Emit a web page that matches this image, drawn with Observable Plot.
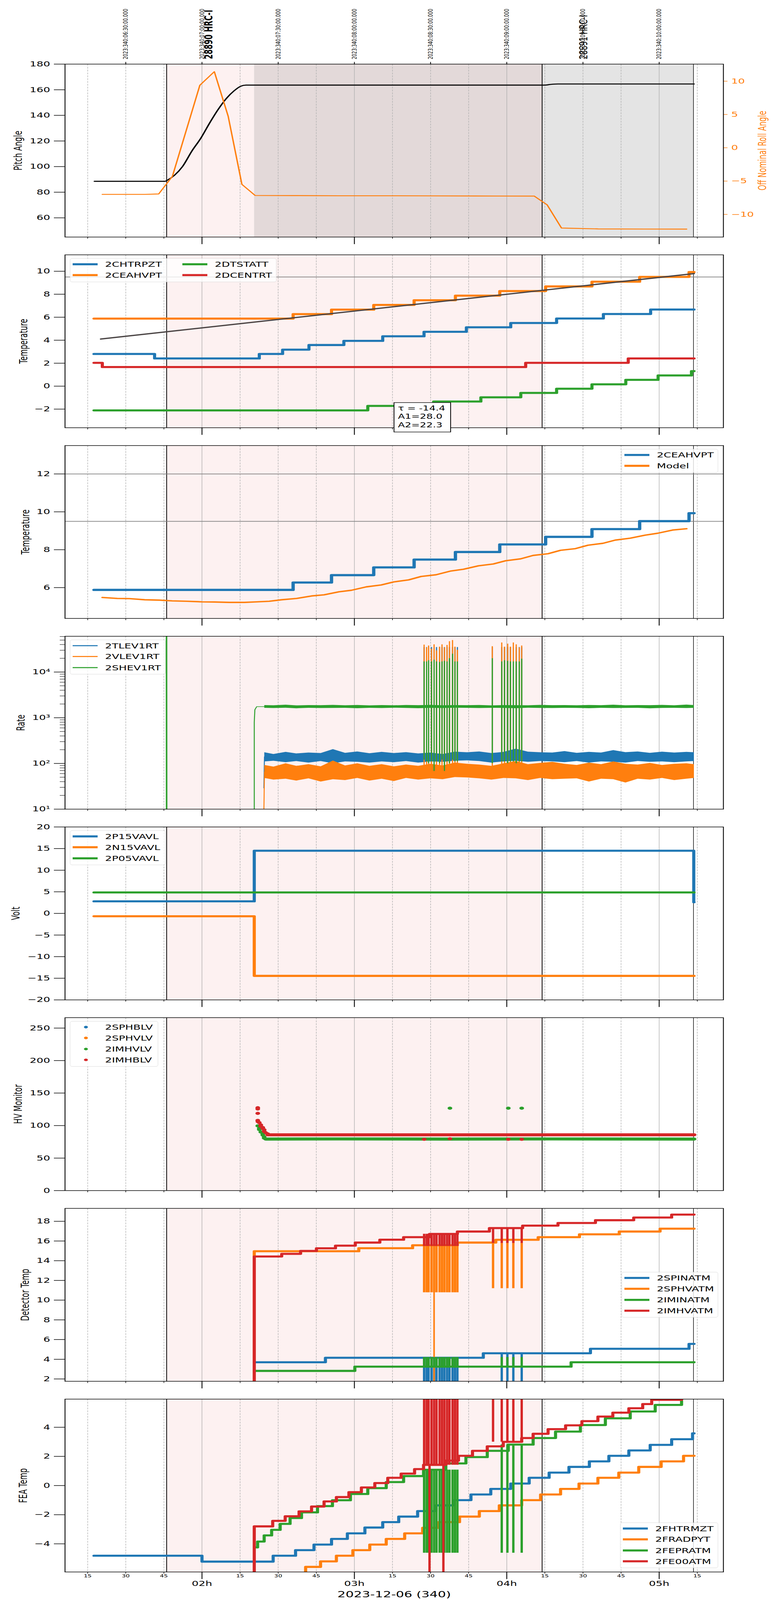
<!DOCTYPE html>
<html>
<head>
<meta charset="utf-8">
<script src="https://cdn.jsdelivr.net/npm/d3@7"></script>
<script src="https://cdn.jsdelivr.net/npm/@observablehq/plot@0.6"></script>
<style>
  html, body { margin: 0; padding: 0; background: #fff; overflow: hidden; }
  #frame { position: relative; width: 2000px; overflow: hidden; background: #fff; }
  #root { position: absolute; left: 0; top: 0; width: 2000px; height: 6200px; font-family: "DejaVu Sans"; background: #fff; transform-origin: 0 0; }
  .leg { position: absolute; border: 1.5px solid #d5d5d5; border-radius: 6px; background: rgba(255,255,255,0.8); box-sizing: border-box; }
  .leg span { position: absolute; white-space: nowrap; font-size: 27.5px; line-height: 34px; color: #000; }
  .ann { position: absolute; border: 2.2px solid #000; background: #fff; box-sizing: border-box; font-size: 26px; line-height: 32.4px; padding: 5px 0 0 9px; white-space: nowrap; }
</style>
</head>
<body>
<div id="frame"><div id="root"></div></div>
<script>
// ---------------- time axis (hours, local) ----------------
const hourTicks = [2, 3, 4, 5];
const hourLabels = ["02h", "03h", "04h", "05h"];
const minorTicks = [1.25, 1.5, 1.75, 2.25, 2.5, 2.75, 3.25, 3.5, 3.75, 4.25, 4.5, 4.75, 5.25];
const minorLabels = ["15","30","45","15","30","45","15","30","45","15","30","45","15"];
const topTicks = [1.5, 2, 2.5, 3, 3.5, 4, 4.5, 5];
const topLabels = ["2023:340:06:30:00.000","2023:340:07:00:00.000","2023:340:07:30:00.000","2023:340:08:00:00.000",
                   "2023:340:08:30:00.000","2023:340:09:00:00.000","2023:340:09:30:00.000","2023:340:10:00:00.000"];
const obsTimes = [2.045, 4.507];
const obsNames = ["28890 HRC-I", "28891 HRC-I"];
const xLabel = "2023-12-06 (340)";
const eventTimes = [1.768, 4.232];
const dataEndTime = [5.225];
const pinkStart = 1.768, slewEnd = 2.343, pinkEnd = 4.232, grayEnd = 5.225;

// ---------------- panel 1: pitch & roll ----------------
const pitchDomain = [45, 180];
const pitchTicks = [60, 80, 100, 120, 140, 160, 180];
const pitchT = [1.294, 1.757, 1.774, 1.820, 1.872, 1.934, 1.992, 2.049, 2.106, 2.163, 2.209, 2.255, 2.289, 4.248, 4.29, 4.336, 5.229];
const pitchV = [88.5, 88.5, 89.5, 93.3, 100, 112.2, 122.1, 133.8, 144.6, 153.6, 159.0, 162.8, 163.6, 163.6, 164.2, 164.5, 164.5];
const rollDomain = [-13.4, 12.56];
const rollTicks = [-10, -5, 0, 5, 10];
const rollT = [1.346, 1.624, 1.716, 1.806, 1.986, 2.081, 2.172, 2.262, 2.349, 2.6, 2.9, 3.2, 3.5, 3.8, 4.18, 4.265, 4.359, 4.6, 4.9, 5.18];
const rollV = [-7.0, -7.0, -6.93, -4.28, 9.39, 11.43, 4.72, -5.5, -7.16, -7.18, -7.2, -7.2, -7.22, -7.24, -7.25, -8.57, -12.05, -12.18, -12.2, -12.21];

// ---------------- panel 2: temperatures ----------------
const chtrpztT = [1.291, 1.689, 2.376, 2.529, 2.702, 2.931, 3.186, 3.457, 3.735, 4.026, 4.327, 4.634, 4.944, 5.229];
const chtrpztV = [2.80, 2.41, 2.80, 3.18, 3.58, 3.94, 4.34, 4.73, 5.12, 5.50, 5.89, 6.28, 6.67, 6.67];
const ceahvptT = [1.291, 2.598, 2.85, 3.127, 3.392, 3.663, 3.954, 4.255, 4.559, 4.872, 5.196, 5.229];
const ceahvptV = [5.88, 6.27, 6.66, 7.07, 7.48, 7.88, 8.28, 8.68, 9.09, 9.51, 9.93, 9.93];
const dtstattT = [1.291, 3.088, 3.52, 3.83, 4.092, 4.327, 4.559, 4.781, 4.993, 5.212, 5.229];
const dtstattV = [-2.11, -1.72, -1.34, -0.97, -0.59, -0.22, 0.16, 0.55, 0.93, 1.31, 1.31];
const dcentrtT = [1.291, 1.346, 4.124, 4.797, 5.229];
const dcentrtV = [2.03, 1.66, 2.03, 2.41, 2.41];
const trendT = [1.336, 5.229];
const trendV = [4.10, 9.80];
const p2Limit = [9.5];
const fitLines = ["τ = -14.4", "A1=28.0", "A2=22.3"];

// ---------------- panel 3: model ----------------
const modelT = [1.346,1.444,1.526,1.624,1.722,1.804,1.902,2.0,2.082,2.180,2.278,2.359,2.441,2.523,2.621,2.719,2.801,2.899,2.980,3.078,3.176,3.258,3.356,3.438,3.536,3.634,3.716,3.814,3.912,3.993,4.091,4.173,4.271,4.353,4.451,4.533,4.631,4.712,4.810,4.908,4.990,5.088,5.180];
const modelV = [5.48,5.43,5.42,5.36,5.34,5.30,5.28,5.25,5.24,5.22,5.22,5.25,5.28,5.36,5.43,5.56,5.62,5.78,5.86,6.04,6.14,6.30,6.41,6.59,6.68,6.88,6.97,7.15,7.25,7.42,7.52,7.70,7.79,7.97,8.06,8.24,8.34,8.51,8.61,8.77,8.87,9.04,9.11];
const p3Limits = [12, 9.5];

// ---------------- panel 4: rates (log) ----------------
const rateT = [2.41,2.47,2.55,2.62,2.70,2.78,2.86,2.94,3.02,3.10,3.18,3.26,3.34,3.42,3.50,3.58,3.66,3.74,3.82,3.90,3.98,4.06,4.14,4.22,4.30,4.38,4.46,4.54,4.62,4.70,4.78,4.86,4.94,5.02,5.10,5.18,5.229];
const tlevHi = [175,160,178,165,172,168,205,170,182,166,178,168,176,165,172,160,180,175,182,168,178,210,180,175,172,185,170,178,172,195,176,182,170,180,172,178,175];
const tlevLo = [110,114,106,112,104,112,100,110,108,104,110,106,112,104,110,108,114,116,112,104,110,114,108,112,110,106,112,104,110,108,104,112,108,110,106,110,112];
const vlevHi = [92,85,100,88,96,86,115,90,100,88,96,86,94,88,98,90,104,98,94,88,100,112,96,102,108,98,92,104,96,110,98,94,102,92,98,100,96];
const vlevLo = [48,44,46,42,47,40,45,43,48,42,46,41,48,44,47,45,50,49,47,44,48,47,43,48,45,46,47,40,46,45,38,46,44,48,43,46,48];
const shevHi = [1880,1860,1920,1850,1880,1870,1900,1860,1890,1850,1880,1860,1890,1870,1900,1860,1880,1870,1890,1850,1880,1870,1860,1900,1870,1880,1860,1890,1870,1920,1860,1880,1870,1900,1860,1930,1880];
const shevLo = [1640,1620,1650,1600,1640,1620,1630,1640,1610,1640,1620,1650,1630,1610,1640,1620,1650,1640,1620,1640,1630,1610,1650,1630,1620,1640,1630,1610,1640,1620,1630,1640,1600,1630,1640,1620,1640];
const tlevLeadT = [2.406, 2.41], tlevLeadV = [29, 140];
const vlevLeadT = [2.405, 2.41], vlevLeadV = [5, 65];
const shevLeadT = [2.343, 2.343, 2.347, 2.359, 2.41], shevLeadV = [5, 800, 1500, 1750, 1750];
const shevFlashT = [1.767, 1.768], shevFlashV = [1e6, 1];
const rateTicks = [10, 100, 1000, 10000];
const rateMinor = [20,30,40,50,60,70,80,90,200,300,400,500,600,700,800,900,2000,3000,4000,5000,6000,7000,8000,9000,20000,30000,40000,50000,60000];
// glitch times
const glitch1 = [3.4575, 3.474, 3.487, 3.506, 3.523, 3.539, 3.559, 3.575, 3.591, 3.608, 3.624, 3.644, 3.660, 3.676];
const glitch2 = [3.905, 3.967, 3.985, 4.006, 4.024, 4.043, 4.062, 4.082, 4.098];
const glitch2T = [3.910, 3.967, 4.004, 4.043, 4.098];
const vlevTop1 = [39500, 34500, 37900, 32400, 40200, 29600, 35600, 40200, 34500, 39000, 46900, 49900, 35600, 30500];
const vlevTop2 = [36600, 44000, 35600, 41500, 35600, 44000, 40200, 34500, 37900];
const shevTop1 = [17000, 17000, 18000, 17000, 18500, 17000, 16500, 17000, 17500, 17000, 20000, 25000, 17000, 17000];
const shevTop2 = [20000, 17000, 18000, 17500, 17000, 17000, 17000, 17000, 19500];
const shevBot1 = [120, 110, 100, 110, 68, 110, 100, 120, 68, 110, 100, 120, 110, 110];
const shevBot2 = [100, 110, 110, 100, 110, 110, 100, 110, 110];
const tlevTop = 35000, tlevBase = 140, vlevBase = 60;

// ---------------- panel 5: voltages ----------------
const p15T = [1.291, 2.343, 5.227, 5.229], p15V = [2.79, 14.51, 2.59, 2.59];
const n15T = [1.291, 2.343, 5.229], n15V = [-0.65, -14.45, -14.45];
const p05T = [1.291, 5.229], p05V = [4.85, 4.85];

// ---------------- panel 6: HV monitor ----------------
const imhblvDotT = [2.366, 2.366, 2.366, 2.366, 2.367, 2.376, 2.386, 2.386, 2.399, 2.399, 2.408, 2.408, 2.418, 2.431, 3.458, 3.627, 4.010, 4.098];
const imhblvDotV = [127.5, 125.5, 118.8, 108, 106, 104.5, 101, 99, 97, 95.5, 93.5, 91, 89, 87.3, 78.9, 79.8, 78.9, 78.9];
const imhblvBandT = [2.431, 5.229], imhblvBandV = [85.8, 85.8];
const imhvlvDotT = [2.366, 2.376, 2.376, 2.386, 2.399, 2.399, 2.408, 2.408, 3.627, 4.010, 4.098];
const imhvlvDotV = [99.5, 95.8, 93.9, 90.1, 87.3, 85.5, 82.6, 80.8, 126.7, 126.7, 126.7];
const imhvlvBandT = [2.418, 2.9, 3.6, 4.3, 5.229], imhvlvBandV = [79.3, 79.5, 79.3, 79.5, 79.3];

// ---------------- panel 7: detector temps ----------------
const spinatmT = [2.343, 2.810, 3.846, 4.549, 5.196, 5.229], spinatmV = [3.70, 4.15, 4.61, 5.06, 5.56, 5.56];
const sphvatmT = [2.343, 2.343, 3.029, 3.382, 3.676, 3.928, 4.206, 4.477, 4.738, 5.006, 5.229];
const sphvatmV = [1.0, 14.96, 15.27, 15.57, 15.84, 16.12, 16.39, 16.68, 16.96, 17.25, 17.25];
const iminatmT = [2.343, 3.003, 4.422, 5.229], iminatmV = [2.82, 3.25, 3.70, 3.70];
const imhvatmT = [2.343, 2.343, 2.523, 2.647, 2.751, 2.876, 3.006, 3.167, 3.323, 3.493, 3.676, 3.886, 4.104, 4.336, 4.582, 4.833, 5.082, 5.229];
const imhvatmV = [1.0, 14.43, 14.70, 14.99, 15.26, 15.53, 15.84, 16.13, 16.39, 16.72, 16.96, 17.31, 17.56, 17.83, 18.11, 18.38, 18.68, 18.68];
const p7Dip = {spin: [4.15, 4.61, 1.0], sphv: [15.57, 10.78, 16.12, 11.2], imin: [3.25, 4.21], imhv: [16.72, 15.48, 17.31, 15.79]};
const sphvDeepT = [3.523];

// ---------------- panel 8: FEA temps ----------------
const fhtrmztT = [1.291, 2.0, 2.467, 2.614, 2.735, 2.850, 2.954, 3.069, 3.186, 3.291, 3.415, 3.536, 3.650, 3.765, 3.895, 4.026, 4.147, 4.278, 4.408, 4.542, 4.670, 4.801, 4.941, 5.082, 5.219, 5.229];
const fhtrmztV = [-4.815, -5.218, -4.815, -4.43, -4.05, -3.66, -3.28, -2.88, -2.51, -2.13, -1.75, -1.36, -1.00, -0.61, -0.23, 0.14, 0.53, 0.89, 1.28, 1.66, 2.04, 2.41, 2.79, 3.18, 3.58, 3.58];
const fradpytT = [2.680, 2.680, 2.778, 2.882, 2.990, 3.101, 3.209, 3.330, 3.448, 3.552, 3.690, 3.820, 3.951, 4.098, 4.222, 4.353, 4.474, 4.598, 4.735, 4.866, 5.013, 5.160, 5.229];
const fradpytV = [-7, -5.58, -5.20, -4.815, -4.43, -4.05, -3.66, -3.28, -2.90, -2.51, -2.13, -1.75, -1.36, -1.00, -0.61, -0.23, 0.14, 0.53, 0.89, 1.28, 1.66, 2.04, 2.04];
const fepratmT = [2.359, 2.365, 2.408, 2.457, 2.513, 2.578, 2.653, 2.758, 2.856, 2.974, 3.088, 3.209, 3.323, 3.454, 3.600, 3.732, 3.872, 4.010, 4.173, 4.320, 4.483, 4.647, 4.810, 4.974, 5.147, 5.229];
const fepratmV = [-4.24, -3.84, -3.42, -3.04, -2.63, -2.23, -1.84, -1.41, -1.01, -0.58, -0.18, 0.24, 0.65, 1.08, 1.52, 1.95, 2.38, 2.81, 3.26, 3.70, 4.15, 4.61, 5.08, 5.53, 6.0, 6.0];
const fe00atmT = [2.343, 2.343, 2.464, 2.546, 2.637, 2.719, 2.801, 2.882, 2.964, 3.046, 3.134, 3.219, 3.307, 3.395, 3.454, 3.600, 3.683, 3.775, 3.872, 3.977, 4.098, 4.173, 4.271, 4.386, 4.493, 4.598, 4.696, 4.801, 4.892, 4.951, 5.147, 5.229];
const fe00atmV = [-7, -2.80, -2.42, -2.11, -1.77, -1.44, -1.09, -0.79, -0.45, -0.13, 0.17, 0.53, 0.82, 1.13, 1.42, 1.71, 2.04, 2.38, 2.69, 3.00, 3.26, 3.55, 3.87, 4.13, 4.42, 4.73, 5.00, 5.30, 5.59, 5.88, 6.2, 6.2];
const p8Dip = {fepr: [1.08, 2.81, -4.62], fe00: [1.42, 3.00, 7.0, -7.0]};
const fe00DownT = [3.493, 3.584];

// ---------------- drawing ----------------
const C = {blue: "#1f77b4", orange: "#ff7f0e", green: "#2ca02c", red: "#d62728"};
const root = document.getElementById("root");
const frame = document.getElementById("frame");
// The sandbox window may be shorter than the 6200px figure: fit the whole figure into the visible height.
const PAGE_H = 6200;
const fitScale = Math.min(1, (window.innerHeight || PAGE_H) / PAGE_H);
frame.style.height = Math.round(PAGE_H * fitScale) + "px";
root.style.transform = "scale(1," + fitScale + ")";

const X_DOMAIN = [1.1012, 5.4215];
const ML = 166, MR = 148, FH = 670, GAP = 739, TOP0 = 248;
const STYLE = {fontFamily: "DejaVu Sans", fontSize: "27.5px", background: "transparent", overflow: "visible", color: "black"};

const pts = (t, v) => t.map((x, i) => ({x, y: v[i]}));
const rl = (t, a, b) => t.map((x, i) => ({x, y1: Array.isArray(a) ? a[i] : a, y2: Array.isArray(b) ? b[i] : b}));
const step = (t, v, color, w) => Plot.line(pts(t, v), {x: "x", y: "y", stroke: color, strokeWidth: w, curve: "step-after", clip: true});
const glitch = (t, a, b, color, w) => Plot.ruleX(rl(t, a, b), {x: "x", y1: "y1", y2: "y2", stroke: color, strokeWidth: w, clip: true});

function back(spans) {
  return [
    ...spans.map(s => Plot.rect([s], {x1: "a", x2: "b", fill: s.c})),
    Plot.ruleX(minorTicks, {stroke: "#b0b0b0", strokeWidth: 1.4, strokeDasharray: "7,4"}),
    Plot.ruleX(hourTicks, {stroke: "#b0b0b0", strokeWidth: 1.4}),
    Plot.ruleX(eventTimes, {stroke: "black", strokeWidth: 2}),
    Plot.ruleX(dataEndTime, {stroke: "black", strokeWidth: 1.4})
  ];
}
const pinkSpans = [{a: pinkStart, b: pinkEnd, c: "#fdf1f1"}];

function axes(yTicks, yFmt, last, yMinor) {
  const m = [];
  if (yMinor) m.push(Plot.axisY({ticks: yMinor, tickSize: 13, strokeWidth: 1.5, fill: "none", label: null}));
  m.push(Plot.axisY({ticks: yTicks, tickFormat: yFmt, tickSize: 28, tickPadding: 10, fontSize: 27.5, strokeWidth: 2.2, label: null}));
  if (last) {
    m.push(
      Plot.axisX({ticks: hourTicks, tickSize: 28, tickPadding: 6, fontSize: 27.5, strokeWidth: 2.2, label: null,
                  tickFormat: d => hourLabels[hourTicks.indexOf(d)]}),
      Plot.axisX({ticks: minorTicks, tickSize: 7, tickPadding: 2, fontSize: 16, strokeWidth: 1.5, label: null,
                  tickFormat: d => minorLabels[minorTicks.indexOf(d)]})
    );
  } else {
    m.push(
      Plot.axisX({ticks: hourTicks, tickSize: 28, strokeWidth: 2.2, fill: "none", label: null}),
      Plot.axisX({ticks: minorTicks, tickSize: 7, strokeWidth: 1.5, fill: "none", label: null})
    );
  }
  m.push(Plot.frame({stroke: "black", strokeWidth: 2.2}));
  return m;
}
const ylab = (text, cx) => Plot.text([text], {text: d => d, frameAnchor: "left", dx: cx - ML, rotate: -90, fontSize: 27.5, lineAnchor: "middle", textAnchor: "middle"});

function panel(i, cfg) {
  const mt = cfg.mt ?? 34, mb = cfg.mb ?? 35;
  const svg = Plot.plot({
    width: 2000, height: mt + FH + mb,
    marginLeft: ML, marginRight: MR, marginTop: mt, marginBottom: mb,
    x: {domain: X_DOMAIN},
    y: {domain: cfg.yDomain, type: cfg.yType ?? "linear"},
    style: STYLE,
    marks: cfg.marks
  });
  svg.style.position = "absolute"; svg.style.left = "0px"; svg.style.top = (TOP0 + GAP * i - mt) + "px";
  root.appendChild(svg);
  return svg;
}

function legend(left, top, width, entries, opts = {}) {
  const cols = opts.cols ?? 1, colW = opts.colW ?? 0, sw = opts.sw ?? 8;
  const n = Math.ceil(entries.length / cols);
  const div = document.createElement("div");
  div.className = "leg";
  Object.assign(div.style, {left: left + "px", top: top + "px", width: width + "px", height: (42 * n + 8) + "px"});
  entries.forEach(([label, color], k) => {
    const col = Math.floor(k / n), row = k % n;
    const cy = 21.5 + 42.5 * row, x0 = col * colW;
    const s = document.createElement("div");
    if (opts.dot) Object.assign(s.style, {position: "absolute", left: (x0 + 35) + "px", top: (cy - 5) + "px", width: "10px", height: "10px", borderRadius: "50%", background: color});
    else Object.assign(s.style, {position: "absolute", left: (x0 + 6) + "px", top: (cy - sw / 2) + "px", width: "64px", height: sw + "px", background: color});
    const t = document.createElement("span");
    t.textContent = label;
    Object.assign(t.style, {left: (x0 + 89) + "px", top: (cy - 17) + "px"});
    div.append(s, t);
  });
  root.appendChild(div);
}

// ----- Panel 1 (pitch, with roll on a secondary axis mapped into the pitch range) -----
const rollToPitch = v => pitchDomain[0] + (v - rollDomain[0]) * (pitchDomain[1] - pitchDomain[0]) / (rollDomain[1] - rollDomain[0]);
panel(0, {
  mt: 248, yDomain: pitchDomain,
  marks: [
    ...back([{a: pinkStart, b: slewEnd, c: "#fdf1f1"}, {a: slewEnd, b: pinkEnd, c: "#e3d9d9"}, {a: pinkEnd, b: grayEnd, c: "#e4e4e4"}]),
    Plot.line(pts(pitchT, pitchV), {x: "x", y: "y", stroke: "black", strokeWidth: 4, curve: "monotone-x"}),
    Plot.line(pts(rollT, rollV), {x: "x", y: d => rollToPitch(d.y), stroke: C.orange, strokeWidth: 3.6}),
    Plot.axisX({anchor: "top", ticks: topTicks, tickSize: 9, strokeWidth: 2, fill: "none", label: null}),
    Plot.text(topTicks, {x: d => d, text: (d, i) => topLabels[i], frameAnchor: "top", dy: -19, rotate: -90, textAnchor: "start", lineAnchor: "middle", fontSize: 16.5}),
    Plot.text([obsNames[0]], {x: () => obsTimes[0], text: d => d, frameAnchor: "top", dy: -19, rotate: -90, textAnchor: "start", lineAnchor: "middle", fontSize: 27.5, fontWeight: "bold"}),
    Plot.text([obsNames[1]], {x: () => obsTimes[1], text: d => d, frameAnchor: "top", dy: -19, rotate: -90, textAnchor: "start", lineAnchor: "middle", fontSize: 27.5}),
    Plot.axisY({anchor: "right", ticks: rollTicks.map(rollToPitch), tickSize: 10, tickPadding: 10, fontSize: 27.5, strokeWidth: 2, color: C.orange, label: null,
                tickFormat: d => String(rollTicks[rollTicks.map(rollToPitch).indexOf(d)]).replace("-", "−")}),
    Plot.text(["Off Nominal Roll Angle"], {text: d => d, frameAnchor: "right", dx: 1953 - (2000 - MR), rotate: -90, fontSize: 27.5, lineAnchor: "middle", textAnchor: "middle", fill: C.orange}),
    ...axes(pitchTicks, d => String(d), false),
    ylab("Pitch Angle", 47)
  ]
});

// ----- Panel 2 -----
panel(1, {
  yDomain: [-3.62, 11.43],
  marks: [
    ...back(pinkSpans),
    Plot.ruleY(p2Limit, {stroke: "#808080", strokeWidth: 2.5}),
    step(chtrpztT, chtrpztV, C.blue, 8),
    step(ceahvptT, ceahvptV, C.orange, 8),
    step(dtstattT, dtstattV, C.green, 8),
    step(dcentrtT, dcentrtV, C.red, 8),
    Plot.line(pts(trendT, trendV), {x: "x", y: "y", stroke: "#4a4444", strokeWidth: 5}),
    ...axes([-2, 0, 2, 4, 6, 8, 10], d => String(d).replace("-", "−"), false),
    ylab("Temperature", 61)
  ]
});
legend(179, 1001, 529, [["2CHTRPZT", C.blue], ["2CEAHVPT", C.orange], ["2DTSTATT", C.green], ["2DCENTRT", C.red]], {cols: 2, colW: 281});
{
  const ann = document.createElement("div");
  ann.className = "ann";
  Object.assign(ann.style, {left: "1008px", top: "1559px", width: "147px", height: "116px"});
  fitLines.forEach(s => { const d = document.createElement("div"); d.textContent = s; ann.appendChild(d); });
  root.appendChild(ann);
}

// ----- Panel 3 -----
panel(2, {
  yDomain: [4.373, 13.5],
  marks: [
    ...back(pinkSpans),
    Plot.ruleY(p3Limits, {stroke: "#808080", strokeWidth: 2.5}),
    step(ceahvptT, ceahvptV, C.blue, 8.5),
    Plot.line(pts(modelT, modelV), {x: "x", y: "y", stroke: C.orange, strokeWidth: 5.5}),
    ...axes([6, 8, 10, 12], d => String(d), false),
    ylab("Temperature", 66)
  ]
});
legend(1592, 1740, 247, [["2CEAHVPT", C.blue], ["Model", C.orange]]);

// ----- Panel 4 -----
const sup = {"1": "¹", "2": "²", "3": "³", "4": "⁴"};
panel(3, {
  yDomain: [10, 60700], yType: "log",
  marks: [
    ...back(pinkSpans),
    Plot.areaY(rateT.map((x, i) => ({x, lo: tlevLo[i], hi: tlevHi[i]})), {x: "x", y1: "lo", y2: "hi", fill: C.blue, clip: true}),
    Plot.line(pts(tlevLeadT, tlevLeadV), {x: "x", y: "y", stroke: C.blue, strokeWidth: 2.5, clip: true}),
    glitch(glitch1, tlevBase, tlevTop, C.blue, 3),
    glitch(glitch2, tlevBase, tlevTop, C.blue, 3),
    Plot.areaY(rateT.map((x, i) => ({x, lo: vlevLo[i], hi: vlevHi[i]})), {x: "x", y1: "lo", y2: "hi", fill: C.orange, clip: true}),
    Plot.line(pts(vlevLeadT, vlevLeadV), {x: "x", y: "y", stroke: C.orange, strokeWidth: 2.5, clip: true}),
    glitch(glitch1, vlevBase, vlevTop1, C.orange, 3),
    glitch(glitch2, vlevBase, vlevTop2, C.orange, 3),
    Plot.line(pts(shevFlashT, shevFlashV), {x: "x", y: "y", stroke: C.green, strokeWidth: 4, clip: true}),
    Plot.line(pts(shevLeadT, shevLeadV), {x: "x", y: "y", stroke: C.green, strokeWidth: 2.5, clip: true}),
    Plot.areaY(rateT.map((x, i) => ({x, lo: shevLo[i], hi: shevHi[i]})), {x: "x", y1: "lo", y2: "hi", fill: C.green, clip: true}),
    glitch(glitch1, shevBot1, shevTop1, C.green, 3),
    glitch(glitch2, shevBot2, shevTop2, C.green, 3),
    ...axes(rateTicks, d => "10" + sup[String(Math.round(Math.log10(d)))], false, rateMinor),
    ylab("Rate", 54)
  ]
});
legend(179, 2479, 245, [["2TLEV1RT", C.blue], ["2VLEV1RT", C.orange], ["2SHEV1RT", C.green]], {sw: 4});

// ----- Panel 5 -----
panel(4, {
  yDomain: [-20, 20],
  marks: [
    ...back(pinkSpans),
    step(p15T, p15V, C.blue, 8),
    step(n15T, n15V, C.orange, 8),
    step(p05T, p05V, C.green, 8),
    ...axes([-20, -15, -10, -5, 0, 5, 10, 15, 20], d => String(d).replace("-", "−"), false),
    ylab("Volt", 41)
  ]
});
legend(179, 3218, 245, [["2P15VAVL", C.blue], ["2N15VAVL", C.orange], ["2P05VAVL", C.green]]);

// ----- Panel 6 -----
panel(5, {
  yDomain: [0, 266],
  marks: [
    ...back(pinkSpans),
    Plot.line(pts(imhvlvBandT, imhvlvBandV), {x: "x", y: "y", stroke: C.green, strokeWidth: 12, strokeLinecap: "round"}),
    Plot.dot(pts(imhvlvDotT, imhvlvDotV), {x: "x", y: "y", r: 6, fill: C.green, stroke: "none"}),
    Plot.line(pts(imhblvBandT, imhblvBandV), {x: "x", y: "y", stroke: C.red, strokeWidth: 12, strokeLinecap: "round"}),
    Plot.dot(pts(imhblvDotT, imhblvDotV), {x: "x", y: "y", r: 6, fill: C.red, stroke: "none"}),
    ...axes([0, 50, 100, 150, 200, 250], d => String(d), false),
    ylab("HV Monitor", 47)
  ]
});
legend(179, 3957, 226, [["2SPHBLV", C.blue], ["2SPHVLV", C.orange], ["2IMHVLV", C.green], ["2IMHBLV", C.red]], {dot: true});

// ----- Panel 7 -----
panel(6, {
  yDomain: [1.765, 19.31],
  marks: [
    ...back(pinkSpans),
    step(spinatmT, spinatmV, C.blue, 8),
    glitch(glitch1, p7Dip.spin[0], p7Dip.spin[2], C.blue, 6),
    glitch(glitch2T.slice(1), p7Dip.spin[1], p7Dip.spin[2], C.blue, 6),
    step(sphvatmT, sphvatmV, C.orange, 8),
    glitch(glitch1, p7Dip.sphv[0], p7Dip.sphv[1], C.orange, 6),
    glitch(glitch2T, p7Dip.sphv[2], p7Dip.sphv[3], C.orange, 6),
    glitch(sphvDeepT, p7Dip.sphv[0], 1.0, C.orange, 4),
    step(iminatmT, iminatmV, C.green, 8),
    glitch(glitch1, p7Dip.imin[0], p7Dip.imin[1], C.green, 6),
    glitch(glitch2T.slice(1), p7Dip.imin[0], p7Dip.imin[1], C.green, 6),
    step(imhvatmT, imhvatmV, C.red, 8),
    glitch(glitch1, p7Dip.imhv[0], p7Dip.imhv[1], C.red, 6),
    glitch(glitch2T, p7Dip.imhv[2], p7Dip.imhv[3], C.red, 6),
    ...axes([2, 4, 6, 8, 10, 12, 14, 16, 18], d => String(d), false),
    ylab("Detector Temp", 65)
  ]
});
legend(1592, 4929, 247, [["2SPINATM", C.blue], ["2SPHVATM", C.orange], ["2IMINATM", C.green], ["2IMHVATM", C.red]]);

// ----- Panel 8 -----
panel(7, {
  yDomain: [-5.93, 5.93], mb: 109,
  marks: [
    ...back(pinkSpans),
    step(fhtrmztT, fhtrmztV, C.blue, 8),
    step(fradpytT, fradpytV, C.orange, 8),
    step(fepratmT, fepratmV, C.green, 8),
    glitch(glitch1, p8Dip.fepr[0], p8Dip.fepr[2], C.green, 6),
    glitch(glitch2T.slice(1), p8Dip.fepr[1], p8Dip.fepr[2], C.green, 6),
    step(fe00atmT, fe00atmV, C.red, 8),
    glitch(glitch1, p8Dip.fe00[0], p8Dip.fe00[2], C.red, 6),
    glitch(glitch2T, p8Dip.fe00[1], p8Dip.fe00[2], C.red, 6),
    glitch(fe00DownT, p8Dip.fe00[0], p8Dip.fe00[3], C.red, 6),
    ...axes([-4, -2, 0, 2, 4], d => String(d).replace("-", "−"), true),
    ylab("FEA Temp", 60),
    Plot.text([xLabel], {text: d => d, frameAnchor: "bottom", dy: 88, fontSize: 33, lineAnchor: "middle"})
  ]
});
legend(1588, 5900, 251, [["2FHTRMZT", C.blue], ["2FRADPYT", C.orange], ["2FEPRATM", C.green], ["2FE00ATM", C.red]]);
</script>
</body>
</html>
